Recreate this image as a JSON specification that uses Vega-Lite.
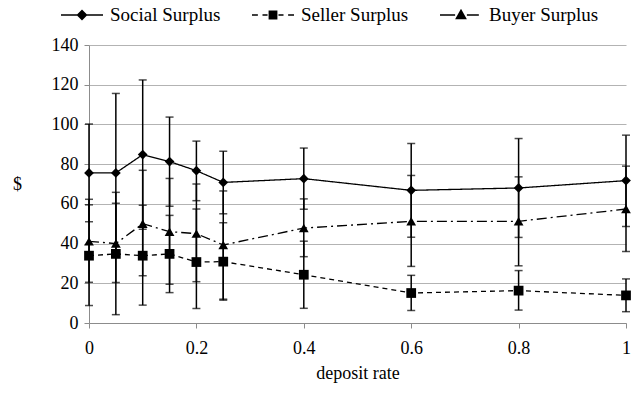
{
  "$schema": "https://vega.github.io/schema/vega-lite/v6.json",
  "width": 537,
  "height": 278,
  "autosize": {"type": "none"},
  "padding": {"left": 89, "top": 45, "right": 11, "bottom": 78},
  "config": {
    "view": {"stroke": null},
    "font": "Liberation Serif",
    "axis": {
      "labelFont": "Liberation Serif",
      "titleFont": "Liberation Serif",
      "labelFontSize": 18,
      "titleFontSize": 18,
      "titleFontWeight": "normal",
      "labelColor": "black",
      "titleColor": "black",
      "domainColor": "#8c8c8c",
      "tickColor": "#8c8c8c",
      "gridColor": "#b3b3b3",
      "tickSize": 5,
      "labelFlush": false
    },
    "axisY": {
      "values": [0, 20, 40, 60, 80, 100, 120, 140],
      "title": "$",
      "titleAngle": 0,
      "titleBaseline": "middle",
      "titlePadding": 34,
      "grid": true,
      "labelPadding": 6,
      "labelOverlap": false
    }
  },
  "data": {
    "values": [
      {"r": 0, "s": "Social Surplus", "m": 75.6, "lo": 51.0, "hi": 100.2},
      {"r": 0.05, "s": "Social Surplus", "m": 75.6, "lo": 35.6, "hi": 115.6},
      {"r": 0.1, "s": "Social Surplus", "m": 84.8, "lo": 47.2, "hi": 122.4},
      {"r": 0.15, "s": "Social Surplus", "m": 81.3, "lo": 58.8, "hi": 103.7},
      {"r": 0.2, "s": "Social Surplus", "m": 76.7, "lo": 61.6, "hi": 91.6},
      {"r": 0.25, "s": "Social Surplus", "m": 70.8, "lo": 55.0, "hi": 86.5},
      {"r": 0.4, "s": "Social Surplus", "m": 72.7, "lo": 57.3, "hi": 88.1},
      {"r": 0.6, "s": "Social Surplus", "m": 66.8, "lo": 43.2, "hi": 90.4},
      {"r": 0.8, "s": "Social Surplus", "m": 68.0, "lo": 43.1, "hi": 92.9},
      {"r": 1, "s": "Social Surplus", "m": 71.7, "lo": 48.6, "hi": 94.6},
      {"r": 0, "s": "Seller Surplus", "m": 33.9, "lo": 8.8, "hi": 59.5},
      {"r": 0.05, "s": "Seller Surplus", "m": 34.8, "lo": 4.2, "hi": 65.8},
      {"r": 0.1, "s": "Seller Surplus", "m": 33.9, "lo": 9.0, "hi": 59.3},
      {"r": 0.15, "s": "Seller Surplus", "m": 34.8, "lo": 15.3, "hi": 54.2},
      {"r": 0.2, "s": "Seller Surplus", "m": 30.7, "lo": 7.3, "hi": 57.4},
      {"r": 0.25, "s": "Seller Surplus", "m": 30.9, "lo": 11.5, "hi": 50.5},
      {"r": 0.4, "s": "Seller Surplus", "m": 24.3, "lo": 7.4, "hi": 41.2},
      {"r": 0.6, "s": "Seller Surplus", "m": 15.1, "lo": 6.3, "hi": 24.0},
      {"r": 0.8, "s": "Seller Surplus", "m": 16.3, "lo": 6.5, "hi": 26.4},
      {"r": 1, "s": "Seller Surplus", "m": 13.9, "lo": 5.7, "hi": 22.2},
      {"r": 0, "s": "Buyer Surplus", "m": 41.1, "lo": 20.5, "hi": 62.3},
      {"r": 0.05, "s": "Buyer Surplus", "m": 40.0, "lo": 20.4, "hi": 60.3},
      {"r": 0.1, "s": "Buyer Surplus", "m": 50.0, "lo": 23.8, "hi": 76.9},
      {"r": 0.15, "s": "Buyer Surplus", "m": 46.0, "lo": 19.5, "hi": 72.8},
      {"r": 0.2, "s": "Buyer Surplus", "m": 45.0, "lo": 20.8, "hi": 70.0},
      {"r": 0.25, "s": "Buyer Surplus", "m": 39.3, "lo": 12.0, "hi": 66.5},
      {"r": 0.4, "s": "Buyer Surplus", "m": 47.8, "lo": 33.4, "hi": 62.5},
      {"r": 0.6, "s": "Buyer Surplus", "m": 51.2, "lo": 28.5, "hi": 74.3},
      {"r": 0.8, "s": "Buyer Surplus", "m": 51.2, "lo": 28.8, "hi": 73.6},
      {"r": 1, "s": "Buyer Surplus", "m": 57.4, "lo": 36.0, "hi": 79.0}
    ]
  },
  "encoding": {
    "x": {
      "field": "r",
      "type": "quantitative",
      "scale": {"domain": [0, 1], "nice": false, "zero": false},
      "axis": {
        "values": [0, 0.2, 0.4, 0.6, 0.8, 1],
        "format": "~g",
        "title": "deposit rate",
        "grid": false,
        "labelFlush": false,
        "labelPadding": 11,
        "titlePadding": 7
      }
    }
  },
  "layer": [
    {
      "mark": {"type": "line", "color": "black", "strokeWidth": 1.3},
      "encoding": {
        "y": {
          "field": "m",
          "type": "quantitative",
          "scale": {"domain": [0, 140], "nice": false},
          "axis": {"title": "$", "values": [0, 20, 40, 60, 80, 100, 120, 140], "tickCount": 8}
        },
        "strokeDash": {
          "field": "s",
          "type": "nominal",
          "scale": {
            "domain": ["Social Surplus", "Seller Surplus", "Buyer Surplus"],
            "range": [[1, 0], [5, 4], [10, 4, 2, 4]]
          },
          "legend": null
        }
      }
    },
    {
      "mark": {"type": "rule", "color": "black", "strokeWidth": 1.5},
      "encoding": {
        "y": {"field": "lo", "type": "quantitative", "axis": {"title": "$", "values": [0, 20, 40, 60, 80, 100, 120, 140], "tickCount": 8}},
        "y2": {"field": "hi"}
      }
    },
    {
      "mark": {"type": "tick", "orient": "horizontal", "size": 8, "thickness": 1.5, "color": "black"},
      "encoding": {"y": {"field": "lo", "type": "quantitative", "axis": {"title": "$", "values": [0, 20, 40, 60, 80, 100, 120, 140], "tickCount": 8}}}
    },
    {
      "mark": {"type": "tick", "orient": "horizontal", "size": 8, "thickness": 1.5, "color": "black"},
      "encoding": {"y": {"field": "hi", "type": "quantitative", "axis": {"title": "$", "values": [0, 20, 40, 60, 80, 100, 120, 140], "tickCount": 8}}}
    },
    {
      "mark": {"type": "point", "filled": true, "color": "black", "opacity": 1, "size": 95},
      "encoding": {
        "y": {"field": "m", "type": "quantitative", "axis": {"title": "$", "values": [0, 20, 40, 60, 80, 100, 120, 140], "tickCount": 8}},
        "shape": {
          "field": "s",
          "type": "nominal",
          "scale": {
            "domain": ["Social Surplus", "Seller Surplus", "Buyer Surplus"],
            "range": ["diamond", "square", "triangle-up"]
          },
          "legend": null
        }
      }
    },
    {
      "mark": {"type": "point", "filled": true, "color": "black", "opacity": 0},
      "encoding": {
        "y": {"field": "m", "type": "quantitative", "axis": {"title": "$", "values": [0, 20, 40, 60, 80, 100, 120, 140], "tickCount": 8}},
        "shape": {
          "field": "s",
          "type": "nominal",
          "scale": {
            "domain": ["Social Surplus", "Seller Surplus", "Buyer Surplus"],
            "range": [
              "M-1,-0.035H1V0.035H-1ZM0,-0.26L0.26,0L0,0.26L-0.26,0Z",
              "M-1,-0.035H-0.72V0.035H-1ZM-0.5,-0.035H-0.26V0.035H-0.5ZM0.26,-0.035H0.5V0.035H0.26ZM0.72,-0.035H1V0.035H0.72ZM-0.21,-0.21H0.21V0.21H-0.21Z",
              "M-1,-0.035H-0.28V0.035H-1ZM0.28,-0.035H0.85V0.035H0.28ZM0,-0.3L0.28,0.2L-0.28,0.2Z"
            ]
          },
          "legend": {
            "orient": "none",
            "legendX": -29,
            "legendY": -52,
            "direction": "horizontal",
            "title": null,
            "padding": 0,
            "symbolSize": 1764,
            "symbolOpacity": 1,
            "labelFont": "Liberation Serif",
            "labelFontSize": 19,
            "labelColor": "black",
            "labelOffset": 6,
            "columnPadding": 28,
            "encode": {
              "symbols": {
                "update": {
                  "fill": {"value": "black"},
                  "opacity": {"value": 1},
                  "fillOpacity": {"value": 1}
                }
              }
            }
          }
        }
      }
    }
  ],
  "resolve": {"scale": {"shape": "independent"}}
}
